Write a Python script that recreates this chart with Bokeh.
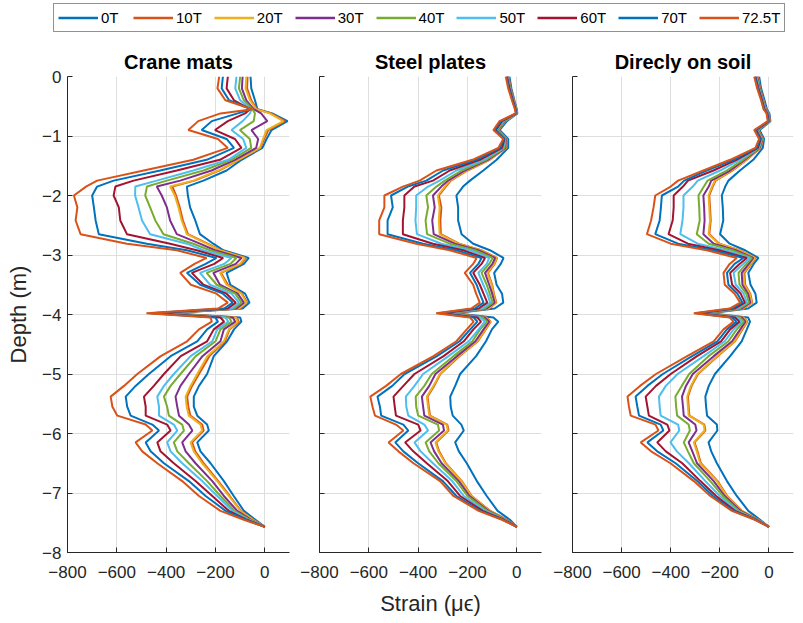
from bokeh.plotting import figure
from bokeh.layouts import column, row
from bokeh.models import Range1d, FixedTicker, Legend, LegendItem
from bokeh.embed import file_html
from bokeh.resources import INLINE

# ---------------- data ----------------
DEPTH = [0, -0.2, -0.4, -0.55, -0.62, -0.75, -0.9, -1.05, -1.2, -1.4, -1.58, -1.75, -1.85, -2.0,
         -2.2, -2.42, -2.65, -2.81, -2.92, -3.05, -3.15, -3.3, -3.5, -3.65, -3.8, -3.9, -3.98,
         -4.05, -4.12, -4.25, -4.45, -4.7, -5.0, -5.2, -5.38, -5.55, -5.7, -5.85, -5.95, -6.15,
         -6.3, -6.5, -6.8, -7.05, -7.3, -7.45, -7.57]

LOADS = ["0T", "10T", "20T", "30T", "40T", "50T", "60T", "70T", "72.5T"]
COLORS = ["#0072BD", "#D95319", "#EDB120", "#7E2F8E", "#77AC30", "#4DBEEE", "#A2142F", "#0072BD", "#D95319"]
PANEL_TITLES = ["Crane mats", "Steel plates", "Direcly on soil"]
X_TICKS = [-800, -600, -400, -200, 0]
Y_TICKS = [-8, -7, -6, -5, -4, -3, -2, -1, 0]

# Crane mats
CRANE_0T = [-58, -55, -40, -30, 30, 92, 27, 7, -10, -94, -155, -249, -316, -312, -303, -282, -263, -209, -168, -65, -85, -155, -140, -80, -62, -90, -385, -100, -95, -125, -153, -207, -234, -267, -288, -288, -274, -234, -227, -274, -261, -220, -166, -126, -85, -38, 0]
CRANE_10T = [-70, -72, -55, -32, 25, 82, 14, -3, -18, -105, -185, -285, -375, -360, -345, -332, -312, -232, -180, -78, -95, -178, -150, -92, -72, -100, -395, -115, -105, -143, -162, -225, -267, -295, -315, -310, -302, -254, -248, -295, -282, -248, -189, -142, -97, -46, 0]
CRANE_20T = [-75, -78, -60, -35, 20, 75, 7, -7, -20, -108, -189, -290, -384, -365, -350, -337, -316, -236, -182, -81, -100, -182, -155, -95, -75, -105, -400, -118, -110, -146, -166, -233, -274, -301, -321, -317, -308, -261, -254, -301, -288, -254, -193, -146, -99, -48, 0]
CRANE_30T = [-90, -93, -75, -45, -15, 10, -54, -27, -35, -121, -216, -343, -438, -418, -397, -384, -357, -263, -202, -95, -118, -209, -182, -110, -85, -115, -410, -130, -120, -166, -180, -253, -308, -342, -362, -355, -348, -308, -294, -335, -321, -281, -213, -166, -112, -55, 0]
CRANE_40T = [-100, -105, -85, -50, -40, -45, -101, -61, -55, -135, -249, -397, -478, -485, -465, -444, -411, -290, -222, -115, -140, -236, -195, -120, -95, -125, -420, -145, -135, -180, -200, -280, -342, -382, -409, -396, -389, -335, -328, -369, -355, -308, -234, -180, -123, -60, 0]
CRANE_50T = [-115, -120, -100, -55, -60, -90, -135, -88, -75, -148, -290, -438, -525, -526, -512, -498, -465, -316, -249, -135, -165, -263, -222, -135, -105, -135, -430, -160, -148, -193, -213, -301, -369, -409, -436, -429, -429, -369, -355, -396, -382, -335, -254, -193, -132, -66, 0]
CRANE_60T = [-150, -155, -125, -60, -80, -150, -202, -121, -95, -182, -357, -532, -606, -613, -592, -586, -559, -384, -276, -169, -205, -296, -249, -155, -118, -150, -445, -180, -165, -207, -234, -341, -409, -450, -490, -483, -483, -396, -382, -436, -423, -369, -281, -213, -146, -72, 0]
CRANE_70T = [-170, -175, -145, -55, -110, -215, -256, -155, -125, -236, -424, -613, -680, -700, -693, -686, -673, -478, -316, -196, -240, -316, -262, -170, -130, -165, -465, -200, -190, -234, -274, -382, -470, -524, -564, -558, -544, -456, -429, -483, -463, -409, -308, -240, -159, -78, 0]
CRANE_72_5T = [-185, -192, -160, -50, -180, -270, -310, -190, -150, -290, -491, -680, -725, -774, -760, -767, -747, -559, -357, -236, -285, -343, -300, -196, -150, -190, -480, -220, -215, -267, -315, -422, -517, -571, -625, -618, -598, -483, -456, -524, -497, -436, -335, -267, -180, -85, 0]

# Steel plates
STEEL_0T = [-30, -22, -10, 0, 2, -40, -70, -35, -35, -82, -136, -190, -218, -245, -238, -238, -224, -177, -109, -54, -65, -92, -82, -60, -55, -90, -250, -95, -75, -101, -125, -165, -230, -250, -270, -268, -260, -225, -215, -250, -235, -203, -162, -122, -78, -28, 0]
STEEL_10T = [-34, -25, -12, -2, 1, -47, -75, -41, -44, -110, -200, -268, -288, -316, -306, -310, -308, -234, -144, -80, -90, -117, -100, -93, -83, -112, -262, -123, -106, -126, -158, -233, -310, -335, -362, -357, -352, -282, -277, -327, -315, -288, -223, -183, -108, -38, 0]
STEEL_20T = [-35, -26, -12, -2, 1, -48, -76, -42, -45, -112, -204, -272, -292, -320, -313, -316, -313, -238, -147, -82, -92, -120, -102, -95, -85, -115, -266, -125, -108, -128, -160, -236, -312, -338, -365, -360, -355, -285, -280, -330, -318, -290, -225, -185, -110, -40, 0]
STEEL_30T = [-36, -27, -13, -3, 0, -50, -78, -44, -47, -118, -211, -279, -306, -340, -333, -343, -337, -252, -156, -88, -99, -129, -112, -100, -90, -122, -272, -130, -112, -135, -168, -243, -330, -355, -385, -380, -375, -300, -295, -350, -335, -305, -235, -192, -115, -42, 0]
STEEL_40T = [-37, -28, -14, -3, 0, -52, -80, -46, -50, -125, -224, -292, -326, -367, -360, -370, -364, -272, -170, -98, -112, -143, -122, -110, -98, -130, -278, -138, -120, -149, -180, -257, -345, -375, -410, -408, -400, -320, -315, -370, -355, -318, -245, -200, -120, -45, 0]
STEEL_50T = [-38, -29, -15, -4, -1, -55, -83, -48, -55, -135, -245, -313, -360, -408, -408, -411, -405, -306, -190, -112, -122, -156, -136, -120, -108, -140, -288, -148, -130, -155, -195, -277, -380, -415, -450, -448, -440, -375, -360, -415, -390, -340, -262, -215, -128, -48, 0]
STEEL_60T = [-40, -30, -16, -5, -2, -60, -86, -50, -60, -150, -272, -340, -415, -456, -456, -462, -462, -340, -218, -129, -143, -177, -150, -135, -120, -155, -300, -160, -145, -176, -215, -297, -415, -460, -500, -495, -490, -400, -390, -453, -420, -365, -280, -230, -138, -52, 0]
STEEL_70T = [-42, -32, -18, -6, -3, -65, -90, -52, -68, -165, -299, -367, -442, -510, -503, -524, -524, -380, -245, -143, -156, -190, -163, -150, -135, -170, -315, -175, -160, -189, -232, -324, -455, -505, -565, -555, -550, -460, -440, -493, -460, -400, -300, -245, -148, -57, 0]
STEEL_72_5T = [-45, -35, -20, -8, -5, -70, -95, -55, -75, -180, -326, -394, -462, -537, -537, -558, -558, -408, -272, -163, -177, -211, -177, -165, -150, -185, -327, -190, -175, -203, -245, -338, -470, -530, -594, -585, -575, -490, -460, -520, -480, -419, -311, -257, -155, -60, 0]

# Directly on soil
SOIL_0T = [-40, -32, -18, -8, 2, 6, -38, -20, -25, -64, -118, -165, -178, -192, -188, -186, -199, -160, -97, -43, -62, -84, -75, -55, -50, -85, -240, -85, -77, -90, -111, -158, -220, -245, -259, -256, -252, -212, -210, -246, -235, -212, -171, -131, -84, -36, 0]
SOIL_10T = [-45, -36, -22, -12, -1, 4, -43, -24, -35, -90, -148, -217, -229, -243, -240, -237, -243, -202, -119, -55, -72, -100, -97, -76, -68, -103, -250, -102, -88, -108, -138, -209, -289, -315, -330, -327, -324, -263, -259, -303, -291, -277, -209, -170, -110, -42, 0]
SOIL_20T = [-46, -37, -23, -13, -2, 3, -44, -25, -36, -92, -151, -220, -232, -246, -243, -240, -246, -205, -122, -57, -75, -104, -100, -78, -70, -105, -252, -104, -90, -111, -140, -212, -292, -318, -333, -330, -327, -266, -262, -306, -294, -280, -212, -172, -112, -43, 0]
SOIL_30T = [-48, -38, -24, -14, -3, 2, -46, -26, -38, -98, -158, -235, -245, -267, -264, -262, -267, -225, -135, -64, -82, -111, -108, -85, -76, -112, -258, -110, -96, -117, -150, -225, -310, -338, -354, -350, -347, -300, -295, -327, -312, -293, -225, -180, -116, -45, 0]
SOIL_40T = [-50, -40, -25, -15, -4, 1, -48, -28, -40, -105, -172, -250, -265, -287, -284, -282, -294, -245, -149, -70, -92, -124, -120, -92, -82, -120, -265, -118, -102, -131, -165, -246, -325, -355, -381, -378, -374, -327, -322, -347, -330, -306, -239, -188, -122, -47, 0]
SOIL_50T = [-52, -41, -26, -16, -5, 0, -50, -30, -42, -118, -199, -290, -310, -348, -348, -352, -361, -290, -176, -77, -105, -144, -135, -103, -90, -130, -275, -128, -110, -144, -180, -266, -372, -420, -448, -445, -441, -370, -365, -401, -375, -326, -259, -200, -130, -49, 0]
SOIL_60T = [-55, -43, -28, -18, -6, -1, -52, -33, -45, -132, -226, -330, -350, -388, -388, -392, -409, -330, -203, -90, -120, -158, -150, -115, -98, -140, -285, -138, -120, -158, -195, -293, -400, -460, -502, -495, -489, -414, -405, -455, -420, -353, -279, -215, -138, -52, 0]
SOIL_70T = [-57, -45, -30, -20, -8, -3, -56, -36, -50, -145, -253, -345, -370, -436, -440, -445, -463, -370, -230, -104, -140, -171, -165, -128, -108, -150, -295, -150, -132, -171, -210, -313, -432, -495, -543, -536, -529, -441, -430, -495, -455, -380, -292, -228, -145, -55, 0]
SOIL_72_5T = [-60, -48, -32, -22, -10, -5, -60, -40, -55, -158, -267, -370, -400, -463, -470, -480, -497, -400, -253, -131, -160, -185, -180, -140, -117, -160, -306, -160, -144, -185, -225, -333, -460, -525, -576, -570, -563, -462, -450, -522, -480, -401, -306, -239, -151, -57, 0]

CRANE = [CRANE_0T, CRANE_10T, CRANE_20T, CRANE_30T, CRANE_40T, CRANE_50T, CRANE_60T, CRANE_70T, CRANE_72_5T]
STEEL = [STEEL_0T, STEEL_10T, STEEL_20T, STEEL_30T, STEEL_40T, STEEL_50T, STEEL_60T, STEEL_70T, STEEL_72_5T]
SOIL = [SOIL_0T, SOIL_10T, SOIL_20T, SOIL_30T, SOIL_40T, SOIL_50T, SOIL_60T, SOIL_70T, SOIL_72_5T]

for grp in (CRANE, STEEL, SOIL):
    for s in grp:
        assert len(s) == len(DEPTH), len(s)

FONT = "Liberation Sans"
AX = "#262626"


def make_panel(title, series, width, left, right, show_ylab, xlabel):
    p = figure(width=width, height=583, x_range=Range1d(-800, 100), y_range=Range1d(-8, 0),
               toolbar_location=None, output_backend="svg",
               min_border_left=left, min_border_right=right, min_border_top=36, min_border_bottom=71,
               outline_line_color=None)
    p.title.text = title
    p.title.align = "center"
    p.title.text_font = FONT
    p.title.text_font_size = "20px"
    p.title.text_font_style = "bold"
    p.title.text_color = "#000000"
    p.title.standoff = 7

    p.xaxis.ticker = FixedTicker(ticks=X_TICKS)
    p.yaxis.ticker = FixedTicker(ticks=Y_TICKS)
    for ax in (p.xaxis, p.yaxis):
        ax.axis_line_color = AX
        ax.major_tick_line_color = AX
        ax.major_tick_in = 5
        ax.major_tick_out = 0
        ax.minor_tick_line_color = None
        ax.major_label_text_font = FONT
        ax.major_label_text_font_size = "17px"
        ax.major_label_text_color = AX
    p.xaxis.major_label_standoff = 13
    p.yaxis.major_label_standoff = 6
    if show_ylab:
        p.yaxis.axis_label = "Depth (m)"
        p.yaxis.axis_label_text_font = FONT
        p.yaxis.axis_label_text_font_size = "22px"
        p.yaxis.axis_label_text_font_style = "normal"
        p.yaxis.axis_label_text_color = AX
        p.yaxis.axis_label_standoff = 8
    else:
        p.yaxis.major_label_overrides = {t: "" for t in Y_TICKS}
        p.yaxis.major_label_standoff = 0
    if xlabel:
        p.xaxis.axis_label = xlabel
        p.xaxis.axis_label_text_font = FONT
        p.xaxis.axis_label_text_font_size = "22px"
        p.xaxis.axis_label_text_font_style = "normal"
        p.xaxis.axis_label_text_color = AX
        p.xaxis.axis_label_standoff = 10

    p.grid.grid_line_color = "#dedede"
    p.grid.grid_line_width = 1

    for vals, col in zip(series, COLORS):
        p.line(x=vals, y=DEPTH, line_color=col, line_width=2)
    return p


p1 = make_panel(PANEL_TITLES[0], CRANE, 296, 67, 7, True, None)
p2 = make_panel(PANEL_TITLES[1], STEEL, 253, 23, 8, False, "Strain (\u03bc\u03f5)")
p3 = make_panel(PANEL_TITLES[2], SOIL, 254, 23, 10, False, None)

leg = figure(width=803, height=40, x_range=Range1d(0, 1), y_range=Range1d(0, 1),
             toolbar_location=None, output_backend="svg", min_border=0, outline_line_color=None)
leg.axis.visible = False
leg.grid.visible = False
items = []
for lab, col in zip(LOADS, COLORS):
    r = leg.line(x=[0.5], y=[float("nan")], line_color=col, line_width=2.5)
    items.append(LegendItem(label=lab, renderers=[r]))
legend = Legend(items=items, orientation="horizontal", location=(53, 8),
                glyph_width=40, glyph_height=19, label_standoff=3, spacing=12, padding=4, margin=0,
                label_text_font=FONT, label_text_font_size="15px", label_text_color="#000000",
                border_line_color=AX, border_line_width=1, background_fill_color="white",
                background_fill_alpha=1.0)
leg.add_layout(legend)

layout = column(leg, row(p1, p2, p3, spacing=0), spacing=0)
open("out.html", "w").write(file_html(layout, INLINE))
